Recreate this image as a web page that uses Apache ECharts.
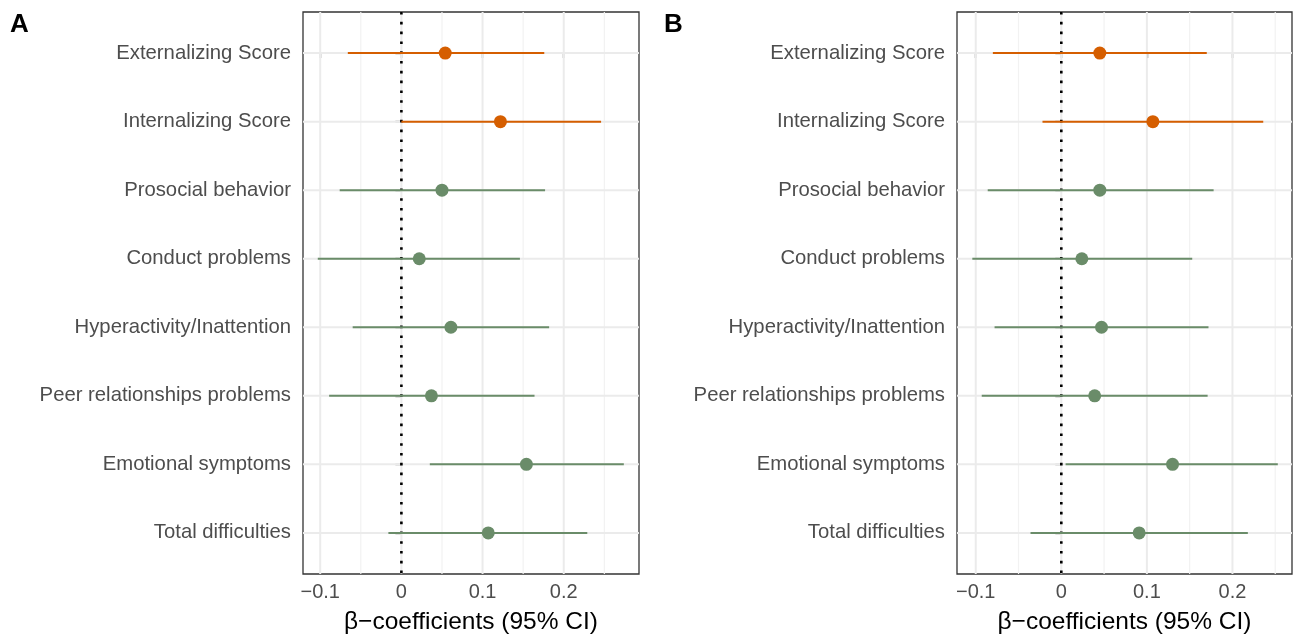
<!DOCTYPE html>
<html lang="en">
<head>
  <meta charset="UTF-8">
  <title>Beta coefficients forest plot</title>
  <script src="https://cdn.jsdelivr.net/npm/echarts@6/dist/echarts.min.js"></script>
  <style>
    html, body { margin: 0; padding: 0; background: #fff; }
    #main { width: 1295px; height: 640px; }
  </style>
</head>
<body>
  <div id="main"></div>

  <script>
  // outcomes, top to bottom
  const categories = [
    'Externalizing Score', 'Internalizing Score', 'Prosocial behavior', 'Conduct problems',
    'Hyperactivity/Inattention', 'Peer relationships problems', 'Emotional symptoms', 'Total difficulties'
  ];
  const outcomeGroup = ['Score', 'Score', 'SDQ', 'SDQ', 'SDQ', 'SDQ', 'SDQ', 'SDQ'];

  // panel A
  const estA  = [0.054, 0.122, 0.050, 0.022, 0.061, 0.037, 0.154, 0.107];
  const lowA  = [-0.066, 0.000, -0.076, -0.103, -0.060, -0.089, 0.035, -0.016];
  const highA = [0.176, 0.246, 0.177, 0.146, 0.182, 0.164, 0.274, 0.229];

  // panel B
  const estB  = [0.045, 0.107, 0.045, 0.024, 0.047, 0.039, 0.130, 0.091];
  const lowB  = [-0.080, -0.022, -0.086, -0.104, -0.078, -0.093, 0.005, -0.036];
  const highB = [0.170, 0.236, 0.178, 0.153, 0.172, 0.171, 0.253, 0.218];

  const xTicks = [-0.1, 0, 0.1, 0.2];
  const xMinorTicks = [-0.05, 0.05, 0.15, 0.25];
  const panelLabels = ['A', 'B'];
  const axisTitle = 'β\u2212coefficients (95% CI)';

  const groupColor = { Score: '#D55E00', SDQ: '#6A8C69' };
  const catIdx = categories.map((c, i) => i);

  const chart = echarts.init(document.getElementById('main'));

  function fmtTick(v) {
    if (v === 0) return '0';
    return v < 0 ? '\u2212' + Math.abs(v) : String(v);
  }

  // background grid + zero line for one panel
  function gridSeries(idx) {
    const data = [];
    xTicks.forEach(v => data.push([v, 0, 0]));
    xMinorTicks.forEach(v => data.push([v, 0, 1]));
    catIdx.forEach(i => data.push([0, i, 2]));
    data.push([0, 0, 3]);
    return {
      type: 'custom',
      xAxisIndex: idx, yAxisIndex: idx,
      silent: true, z: 1,
      clip: true,
      data: data,
      renderItem: function (params, api) {
        const cs = params.coordSys;
        const kind = api.value(2);
        const p = api.coord([api.value(0), api.value(1)]);
        if (kind === 2) {
          return { type: 'line', shape: { x1: cs.x, y1: p[1], x2: cs.x + cs.width, y2: p[1] },
                   style: { stroke: '#EBEBEB', lineWidth: 2 } };
        }
        if (kind === 3) {
          return { type: 'line', z2: 5, shape: { x1: p[0], y1: cs.y, x2: p[0], y2: cs.y + cs.height },
                   style: { stroke: '#000', lineWidth: 2.6, lineDash: [2.6, 7.2] } };
        }
        return { type: 'line', shape: { x1: p[0], y1: cs.y, x2: p[0], y2: cs.y + cs.height },
                 style: { stroke: kind === 0 ? '#EBEBEB' : '#F2F2F2', lineWidth: kind === 0 ? 2 : 1.2 } };
      }
    };
  }

  function errorSeries(idx, low, high) {
    return {
      type: 'custom',
      xAxisIndex: idx, yAxisIndex: idx,
      z: 3,
      data: catIdx.map(i => [low[i], high[i], i]),
      renderItem: function (params, api) {
        const i = api.value(2);
        const a = api.coord([api.value(0), i]);
        const b = api.coord([api.value(1), i]);
        return { type: 'line', shape: { x1: a[0], y1: a[1], x2: b[0], y2: b[1] },
                 style: { stroke: groupColor[outcomeGroup[i]], lineWidth: 2 } };
      }
    };
  }

  function pointSeries(idx, est) {
    return {
      type: 'scatter',
      xAxisIndex: idx, yAxisIndex: idx,
      z: 4,
      symbolSize: 13,
      data: catIdx.map(i => ({ value: [est[i], i], itemStyle: { color: groupColor[outcomeGroup[i]], opacity: 1 } }))
    };
  }

  function xAxis(idx, min, max) {
    return {
      type: 'value', gridIndex: idx, min: min, max: max,
      splitLine: { show: false },
      axisLine: { show: false },
      axisTick: { show: true, customValues: xTicks, length: 5, lineStyle: { color: '#333', width: 1.3 } },
      axisLabel: { customValues: xTicks, formatter: fmtTick, fontSize: 20, color: '#4D4D4D',
                   fontFamily: 'Liberation Sans', margin: 8 },
      name: axisTitle, nameLocation: 'middle', nameGap: 36,
      nameTextStyle: { fontSize: 24.5, color: '#000', fontFamily: 'Liberation Sans' }
    };
  }

  function yAxis(idx) {
    return {
      type: 'value', gridIndex: idx, inverse: true, min: -0.6, max: 7.6,
      splitLine: { show: false },
      axisLine: { show: false },
      axisTick: { show: true, customValues: catIdx, length: 6, lineStyle: { color: '#333', width: 1.3 } },
      axisLabel: { customValues: catIdx, formatter: v => categories[Math.round(v)], fontSize: 20.3,
                   color: '#4D4D4D', fontFamily: 'Liberation Sans', margin: 12 }
    };
  }

  const option = {
    animation: false,
    backgroundColor: '#fff',
    grid: [
      { left: 303, top: 12, width: 336, height: 563, show: true, borderColor: '#333', borderWidth: 1.3, backgroundColor: '#fff' },
      { left: 957, top: 12, width: 335, height: 563, show: true, borderColor: '#333', borderWidth: 1.3, backgroundColor: '#fff' }
    ],
    xAxis: [xAxis(0, -0.1212, 0.2927), xAxis(1, -0.1219, 0.2696)],
    yAxis: [yAxis(0), yAxis(1)],
    graphic: [
      { type: 'text', left: 10, top: 12, style: { text: panelLabels[0], font: 'bold 26px "Liberation Sans"', fill: '#000' } },
      { type: 'text', left: 664, top: 12, style: { text: panelLabels[1], font: 'bold 26px "Liberation Sans"', fill: '#000' } }
    ],
    series: [
      gridSeries(0), errorSeries(0, lowA, highA), pointSeries(0, estA),
      gridSeries(1), errorSeries(1, lowB, highB), pointSeries(1, estB)
    ]
  };

  chart.setOption(option);
  </script>
</body>
</html>
